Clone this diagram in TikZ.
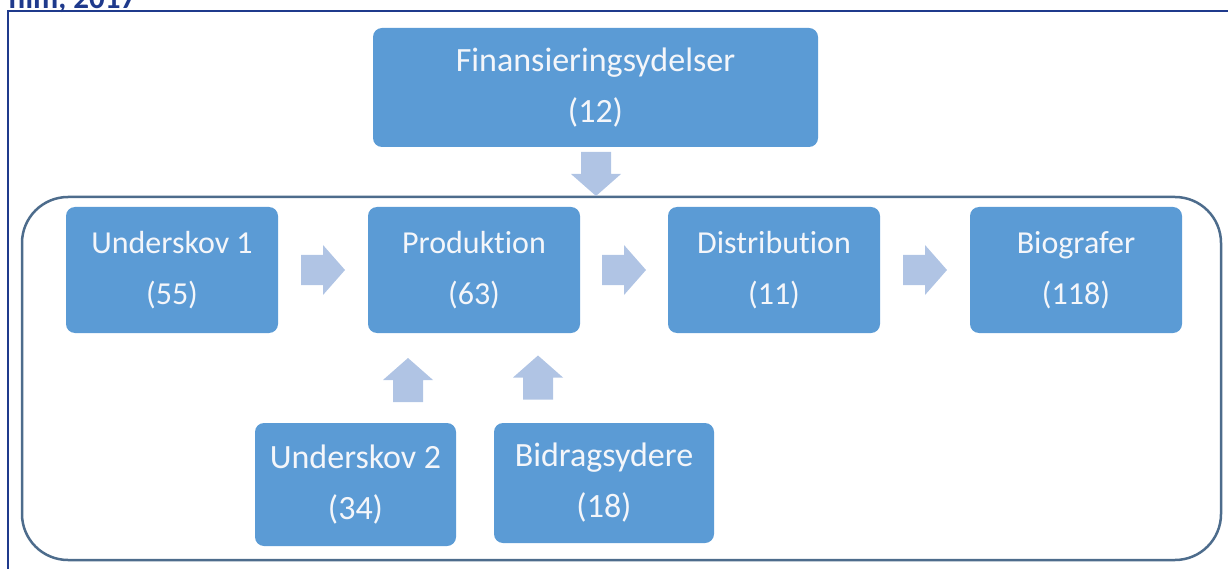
\documentclass[tikz,border=0pt]{standalone}
\usepackage{fontspec}
\setmainfont{Carlito}[Ligatures={NoCommon}]
\usetikzlibrary{calc}
\definecolor{boxblue}{HTML}{5B9BD5}
\definecolor{arrowblue}{HTML}{B0C4E4}
\definecolor{framenavy}{HTML}{1F3A8C}
\definecolor{groupline}{HTML}{4D6C8C}
\definecolor{boxtext}{HTML}{F4F6FA}
\tikzset{
  stagebox/.style={rectangle, rounded corners=9pt, fill=boxblue, text=boxtext,
    align=center, inner sep=0pt},
  midfont/.style={font=\fontsize{32}{51}\selectfont},
  bigfont/.style={font=\fontsize{34}{51}\selectfont},
  % wide block arrow pointing along the local x axis, centred on the origin
  pics/blockarrow/.style={code={
    \fill[arrowblue] (-22,-15) -- (0,-15) -- (0,-25) -- (22,0)
      -- (0,25) -- (0,15) -- (-22,15) -- cycle;
  }}
}
\begin{document}
\begin{tikzpicture}[x=1pt, y=-1pt]
  \useasboundingbox (0,0) rectangle (1228,569);
  \clip (0,0) rectangle (1228,569);

  % heading, cut by the page top
  \node[anchor=base west, inner sep=0pt, text=framenavy,
        font=\fontsize{31}{36}\selectfont\bfseries] (heading) at (8,9) {film, 2017};

  % outer frame
  \draw[framenavy, line width=2.2pt] (8,600) -- (8,11) -- (1240,11);

  % group outline around the value chain
  \draw[groupline, line width=2.5pt, rounded corners=46pt]
    (22,197) rectangle (1221,560);

  % stages
  \node[stagebox, bigfont, minimum width=445pt, minimum height=119pt] (fin) at (595.5,87.5)
    {Finansieringsydelser\\(12)};
  \node[stagebox, midfont, minimum width=212pt, minimum height=126pt] (und1) at (172,270)
    {Underskov 1\\(55)};
  \node[stagebox, midfont, minimum width=212pt, minimum height=126pt] (prod) at (474,270)
    {Produktion\\(63)};
  \node[stagebox, midfont, minimum width=212pt, minimum height=126pt] (dist) at (774,270)
    {Distribution\\(11)};
  \node[stagebox, midfont, minimum width=212pt, minimum height=126pt] (bio) at (1076,270)
    {Biografer\\(118)};
  \node[stagebox, bigfont, minimum width=201pt, minimum height=123pt] (und2) at (355.5,484.5)
    {Underskov 2\\(34)};
  \node[stagebox, bigfont, minimum width=220pt, minimum height=120pt] (bid) at (604,483)
    {Bidragsydere\\(18)};

  % block arrows between the stages
  \coordinate (a1) at ($(und1.east)!0.5!(prod.west)$);
  \coordinate (a2) at ($(prod.east)!0.5!(dist.west)$);
  \coordinate (a3) at ($(dist.east)!0.5!(bio.west)$);
  \coordinate (a4) at (596,174);
  \coordinate (a5) at (408,380);
  \coordinate (a6) at (538,377.5);
  \pic at (a1) {blockarrow};
  \pic at (a2) {blockarrow};
  \pic at (a3) {blockarrow};
  \pic[rotate=-90] at (a4) {blockarrow};
  \pic[rotate=90] at (a5) {blockarrow};
  \pic[rotate=90] at (a6) {blockarrow};
\end{tikzpicture}
\end{document}
